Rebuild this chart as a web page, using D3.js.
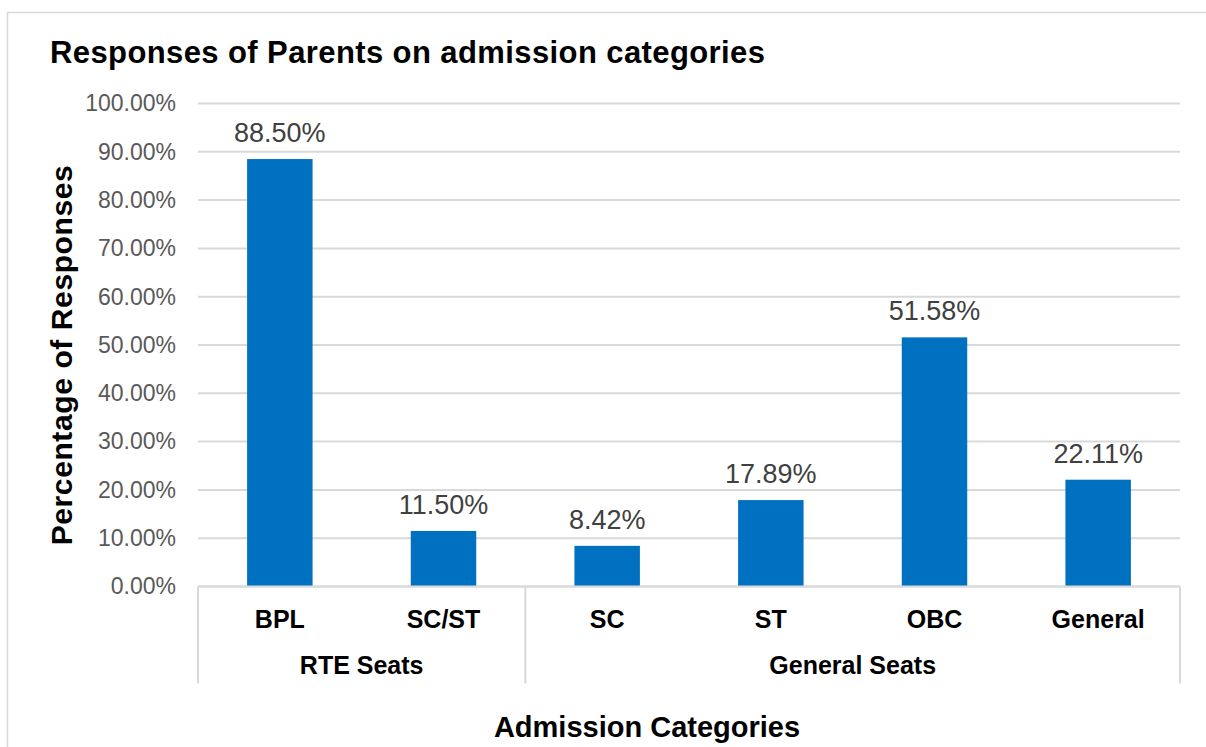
<!DOCTYPE html>
<html>
<head>
<meta charset="utf-8">
<script src="https://cdn.jsdelivr.net/npm/d3@7"></script>
<style>
  body { margin: 0; background: #fff; }
  text { font-family: 'Liberation Sans', Arial, sans-serif; }
</style>
</head>
<body>
<div class="svg"></div>
<script>
'use strict';

var categories = ['BPL', 'SC/ST', 'SC', 'ST', 'OBC', 'General'];
var values = [0.885, 0.115, 0.0842, 0.1789, 0.5158, 0.2211];
var groupNames = ['RTE Seats', 'General Seats'];
var groupMembers = [['BPL', 'SC/ST'], ['SC', 'ST', 'OBC', 'General']];
var yTicks = [0, 0.1, 0.2, 0.3, 0.4, 0.5, 0.6, 0.7, 0.8, 0.9, 1.0];

var width = 1206;
var height = 747;
var margins = { top: 103.5, left: 198, right: 26, bottom: 160.5 };
var plotW = width - margins.left - margins.right;
var plotH = height - margins.top - margins.bottom;
var gridColor = '#d9d9d9';

var svg = d3.select('div.svg').append('svg')
    .attr('width', width)
    .attr('height', height);

// outer chart border
svg.append('rect')
    .attr('x', 7.5).attr('y', 12.5)
    .attr('width', 1210).attr('height', 760)
    .attr('fill', 'none')
    .attr('stroke', gridColor)
    .attr('stroke-width', 1.5);

svg.append('text')
    .attr('x', 50).attr('y', 63)
    .attr('font-size', 31).attr('font-weight', 'bold')
    .attr('letter-spacing', 0.4)
    .attr('fill', '#000')
    .text('Responses of Parents on admission categories');

var xScale = d3.scaleBand()
    .domain(categories)
    .range([0, plotW])
    .paddingInner(0.6)
    .paddingOuter(0.3);

var yScale = d3.scaleLinear()
    .domain([0, 1])
    .range([plotH, 0]);

var chart = svg.append('g')
    .attr('transform', 'translate(' + margins.left + ',' + margins.top + ')');

// gridlines
chart.append('g')
    .selectAll('line')
    .data(yTicks)
    .enter().append('line')
    .attr('x1', 0).attr('x2', plotW)
    .attr('y1', function (d) { return yScale(d); })
    .attr('y2', function (d) { return yScale(d); })
    .attr('stroke', gridColor)
    .attr('stroke-width', 2);

var yAxis = d3.axisLeft(yScale)
    .tickValues(yTicks)
    .tickFormat(d3.format('.2%'))
    .tickSize(0)
    .tickPadding(22);

var yAx = chart.append('g').call(yAxis);
yAx.select('.domain').remove();
yAx.selectAll('text')
    .attr('font-size', 23)
    .attr('fill', '#595959')
    .style('font-family', "'Liberation Sans', Arial, sans-serif");

chart.selectAll('rect.bar')
    .data(values)
    .enter().append('rect')
    .attr('class', 'bar')
    .attr('x', function (d, i) { return xScale(categories[i]); })
    .attr('y', function (d) { return yScale(d); })
    .attr('width', xScale.bandwidth())
    .attr('height', function (d) { return plotH - yScale(d); })
    .attr('fill', '#0070c0');

chart.selectAll('text.val')
    .data(values)
    .enter().append('text')
    .attr('class', 'val')
    .attr('x', function (d, i) { return xScale(categories[i]) + xScale.bandwidth() / 2; })
    .attr('y', function (d) { return yScale(d) - 17; })
    .attr('text-anchor', 'middle')
    .attr('font-size', 27)
    .attr('fill', '#404040')
    .text(function (d) { return d3.format('.2%')(d); });

// category axis with group brackets
var step = xScale.step();
var xAx = chart.append('g').attr('transform', 'translate(0,' + plotH + ')');
xAx.append('line')
    .attr('x1', 0).attr('x2', plotW)
    .attr('y1', 0).attr('y2', 0)
    .attr('stroke', gridColor).attr('stroke-width', 2);

xAx.selectAll('text.cat')
    .data(categories)
    .enter().append('text')
    .attr('class', 'cat')
    .attr('x', function (d) { return xScale(d) + xScale.bandwidth() / 2; })
    .attr('y', 41)
    .attr('text-anchor', 'middle')
    .attr('font-size', 25).attr('font-weight', 'bold')
    .attr('fill', '#000')
    .text(function (d) { return d; });

var edges = [0];
groupMembers.forEach(function (g) {
    var last = g[g.length - 1];
    edges.push(xScale(last) + xScale.bandwidth() / 2 + step / 2);
});
edges[edges.length - 1] = plotW;

xAx.selectAll('line.sep')
    .data(edges)
    .enter().append('line')
    .attr('class', 'sep')
    .attr('x1', function (d) { return d; })
    .attr('x2', function (d) { return d; })
    .attr('y1', 0).attr('y2', 97)
    .attr('stroke', gridColor).attr('stroke-width', 2);

xAx.selectAll('text.grp')
    .data(groupNames)
    .enter().append('text')
    .attr('class', 'grp')
    .attr('x', function (d, i) { return (edges[i] + edges[i + 1]) / 2; })
    .attr('y', 87)
    .attr('text-anchor', 'middle')
    .attr('font-size', 25).attr('font-weight', 'bold')
    .attr('fill', '#000')
    .text(function (d) { return d; });

svg.append('text')
    .attr('x', margins.left + plotW / 2 - 42)
    .attr('y', 737)
    .attr('text-anchor', 'middle')
    .attr('font-size', 29).attr('font-weight', 'bold')
    .attr('fill', '#000')
    .text('Admission Categories');

svg.append('text')
    .attr('transform', 'translate(72,355) rotate(-90)')
    .attr('text-anchor', 'middle')
    .attr('font-size', 30).attr('font-weight', 'bold')
    .attr('letter-spacing', 0.6)
    .attr('fill', '#000')
    .text('Percentage of Responses');
</script>
</body>
</html>
